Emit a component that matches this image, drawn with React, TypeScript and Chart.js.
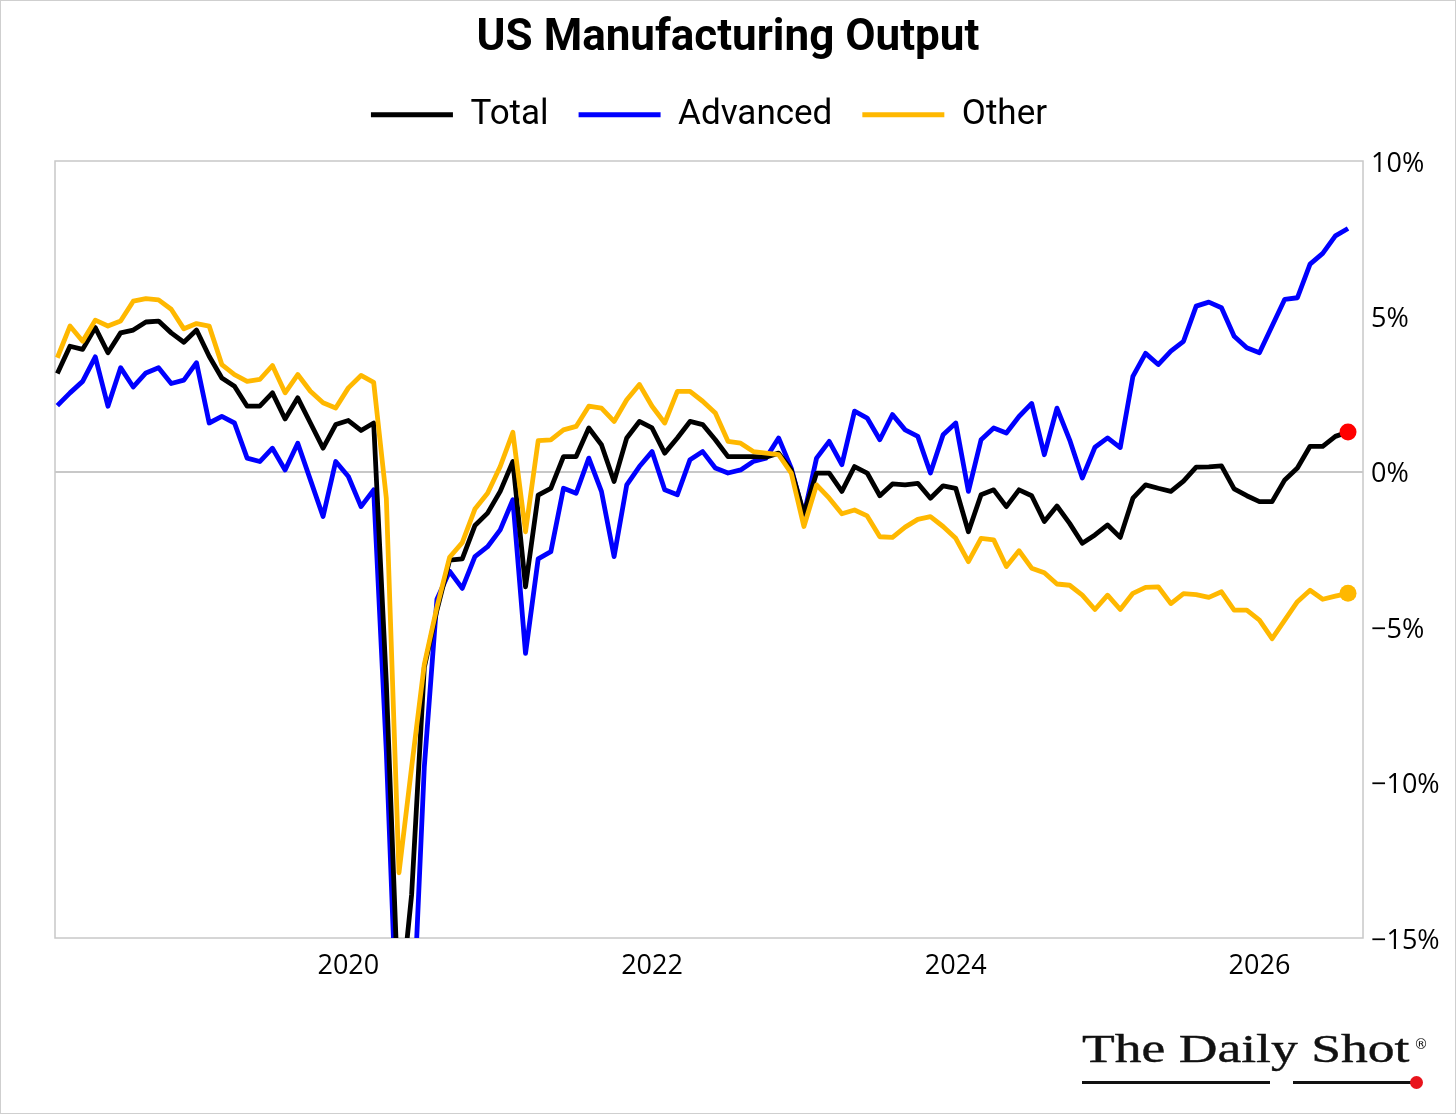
import React, { useEffect, useRef } from "react";
import { Chart, registerables } from "chart.js";

Chart.register(...registerables);

// Monthly series starting February 2018
const START_YEAR = 2018;
const START_MONTH = 2;

const total = [
  3.16, 4.04, 3.94, 4.64, 3.83, 4.47, 4.56, 4.82, 4.85, 4.47,
  4.17, 4.56, 3.72, 3.02, 2.75, 2.11, 2.11, 2.54, 1.7, 2.38,
  1.57, 0.76, 1.52, 1.65, 1.33, 1.57, -6.8, -17.6, -13.6, -6.3,
  -4.45, -2.84, -2.8, -1.73, -1.33, -0.63, 0.33, -3.7, -0.75, -0.53,
  0.49, 0.49, 1.41, 0.87, -0.31, 1.09, 1.62, 1.41, 0.6, 1.09,
  1.62, 1.52, 1.03, 0.49, 0.49, 0.49, 0.47, 0.6, 0.06, -1.35,
  -0.04, -0.04, -0.63, 0.17, -0.04, -0.77, -0.39, -0.42, -0.37, -0.85,
  -0.45, -0.53, -1.93, -0.74, -0.58, -1.12, -0.58, -0.77, -1.6, -1.1,
  -1.66, -2.3, -2.03, -1.71, -2.11, -0.85, -0.42, -0.53, -0.63, -0.3,
  0.15, 0.16, 0.19, -0.55, -0.77, -0.96, -0.96, -0.26, 0.12, 0.82,
  0.82, 1.14, 1.28,
];

const advanced = [
  2.13, 2.54, 2.91, 3.7, 2.11, 3.35, 2.73, 3.18, 3.35, 2.84,
  2.95, 3.51, 1.57, 1.78, 1.57, 0.44, 0.33, 0.76, 0.06, 0.92,
  -0.26, -1.44, 0.33, -0.15, -1.12, -0.58, -9.0, -19.7, -18.7, -9.5,
  -4.1, -3.2, -3.75, -2.73, -2.41, -1.87, -0.9, -5.84, -2.8, -2.57,
  -0.53, -0.69, 0.44, -0.63, -2.73, -0.42, 0.17, 0.65, -0.58, -0.74,
  0.39, 0.65, 0.12, -0.04, 0.06, 0.33, 0.44, 1.09, 0.12, -1.39,
  0.44, 0.98, 0.23, 1.95, 1.73, 1.03, 1.84, 1.35, 1.14, -0.04,
  1.19, 1.57, -0.63, 1.03, 1.41, 1.25, 1.78, 2.2, 0.55, 2.05,
  1.03, -0.2, 0.79, 1.09, 0.78, 3.07, 3.81, 3.45, 3.88, 4.2,
  5.33, 5.46, 5.28, 4.36, 3.99, 3.83, 4.69, 5.55, 5.6, 6.68,
  7.03, 7.59, 7.83,
];

const other = [
  3.67, 4.69, 4.2, 4.88, 4.69, 4.85, 5.49, 5.57, 5.53, 5.23,
  4.6, 4.77, 4.69, 3.45, 3.13, 2.91, 2.97, 3.42, 2.54, 3.13,
  2.59, 2.22, 2.05, 2.7, 3.1, 2.88, -0.85, -12.9, -9.5, -6.2,
  -4.35, -2.75, -2.28, -1.2, -0.69, 0.17, 1.27, -1.93, 1.0, 1.03,
  1.35, 1.46, 2.11, 2.05, 1.62, 2.32, 2.81, 2.11, 1.57, 2.59,
  2.59, 2.27, 1.89, 0.98, 0.92, 0.65, 0.6, 0.55, -0.04, -1.76,
  -0.42, -0.85, -1.35, -1.23, -1.42, -2.09, -2.11, -1.78, -1.53, -1.44,
  -1.76, -2.14, -2.89, -2.14, -2.19, -3.05, -2.54, -3.1, -3.25, -3.61,
  -3.65, -3.97, -4.43, -3.97, -4.43, -3.91, -3.72, -3.7, -4.24, -3.92,
  -3.95, -4.04, -3.86, -4.45, -4.45, -4.77, -5.37, -4.77, -4.18, -3.81,
  -4.1, -4.0, -3.91,
];

const seriesLabels = ["Total", "Advanced", "Other"];
const xTickYears = [2020, 2022, 2024, 2026];
const yTickValues = [-15, -10, -5, 0, 5, 10];
const X_MIN = 2018.068;
const X_MAX = 2026.682;
const Y_MIN = -15;
const Y_MAX = 10;

const COLORS = { total: "#000000", advanced: "#0000ff", other: "#ffb800", totalDot: "#ff0000" };

const monthX = total.map((_, i) => START_YEAR + (START_MONTH - 1 + i) / 12);
const toPoints = (arr: number[]) => arr.map((v, i) => ({ x: monthX[i], y: v }));

const framePlugin = {
  id: "plotFrame",
  beforeDatasetsDraw(chart: any) {
    const { ctx, chartArea: a } = chart;
    ctx.save();
    ctx.strokeStyle = "#c8c8c8";
    ctx.lineWidth = 1.5;
    ctx.strokeRect(a.left, a.top, a.right - a.left, a.bottom - a.top);
    ctx.restore();
  },
};

const LINE_W = 4.8;

export default function App() {
  const canvasRef = useRef<HTMLCanvasElement | null>(null);

  useEffect(() => {
    const canvas = canvasRef.current;
    if (!canvas) return;
    const last = total.length - 1;
    const tickFont = { family: "'Open Sans', 'Noto Sans', sans-serif", size: 27 };

    const chart = new Chart(canvas, {
      type: "line",
      data: {
        datasets: [
          {
            label: seriesLabels[0],
            data: toPoints(total),
            borderColor: COLORS.total,
            backgroundColor: COLORS.total,
            borderWidth: LINE_W,
            borderJoinStyle: "round",
            tension: 0,
            pointRadius: (c: any) => (c.dataIndex === last ? 8.5 : 0),
            pointBackgroundColor: COLORS.totalDot,
            pointBorderWidth: 0,
            pointHoverRadius: 0,
            order: 1,
            clip: 0,
          },
          {
            label: seriesLabels[1],
            data: toPoints(advanced),
            borderColor: COLORS.advanced,
            backgroundColor: COLORS.advanced,
            borderWidth: LINE_W,
            borderJoinStyle: "round",
            tension: 0,
            pointRadius: 0,
            pointHoverRadius: 0,
            order: 2,
            clip: 0,
          },
          {
            label: seriesLabels[2],
            data: toPoints(other),
            borderColor: COLORS.other,
            backgroundColor: COLORS.other,
            borderWidth: LINE_W,
            borderJoinStyle: "round",
            tension: 0,
            pointRadius: (c: any) => (c.dataIndex === last ? 8.5 : 0),
            pointBackgroundColor: COLORS.other,
            pointBorderWidth: 0,
            pointHoverRadius: 0,
            order: 0,
            clip: 0,
          },
        ],
      } as any,
      options: {
        responsive: false,
        animation: false,
        events: [],
        layout: { padding: { left: 0, right: 0, top: 0, bottom: 0 } },
        scales: {
          x: {
            type: "linear",
            position: "bottom",
            min: X_MIN,
            max: X_MAX,
            grid: { display: false, drawTicks: false },
            border: { display: false },
            ticks: {
              font: tickFont,
              color: "#000",
              padding: 12,
              maxRotation: 0,
              autoSkip: false,
              callback: (v: any) => String(v),
            },
            afterBuildTicks: (s: any) => {
              s.ticks = xTickYears.map((v) => ({ value: v }));
            },
            afterFit: (s: any) => {
              s.height = 176;
            },
          },
          y: {
            type: "linear",
            position: "right",
            min: Y_MIN,
            max: Y_MAX,
            grid: {
              drawTicks: false,
              lineWidth: 2,
              color: (c: any) => (c.tick && c.tick.value === 0 ? "#c8c8c8" : "rgba(0,0,0,0)"),
            },
            border: { display: false },
            ticks: {
              font: tickFont,
              color: "#000",
              padding: 8,
              labelOffset: 3,
              callback: (v: any) => (v < 0 ? "\u2212" + Math.abs(v) : String(v)) + "%",
            },
            afterBuildTicks: (s: any) => {
              s.ticks = yTickValues.map((v) => ({ value: v }));
            },
            afterFit: (s: any) => {
              s.width = 93;
            },
          },
          yLeftSpace: {
            type: "linear",
            position: "left",
            display: true,
            grid: { display: false, drawTicks: false },
            border: { display: false },
            ticks: { display: false },
            afterFit: (s: any) => {
              s.width = 55;
            },
          },
        },
        plugins: {
          tooltip: { enabled: false },
          title: {
            display: true,
            text: "US Manufacturing Output",
            color: "#000",
            font: { family: "Roboto, 'Noto Sans', sans-serif", size: 44, weight: "bold" },
            padding: { top: 13, bottom: 1.5 },
          },
          legend: {
            display: true,
            position: "top",
            fullSize: false,
            labels: {
              boxWidth: 82,
              boxHeight: 5,
              padding: 30,
              color: "#000",
              font: { family: "Roboto, 'Noto Sans', sans-serif", size: 35 },
              generateLabels: (ch: any) =>
                ch.data.datasets.map((ds: any, i: number) => ({
                  text: ds.label,
                  fillStyle: ds.borderColor,
                  strokeStyle: ds.borderColor,
                  lineWidth: 0,
                  hidden: false,
                  datasetIndex: i,
                  fontColor: "#000",
                })),
            },
          },
          subtitle: {
            display: true,
            text: "",
            weight: 900,
            font: { size: 1 },
            padding: { top: 17.5, bottom: 0 },
          },
        },
      } as any,
      plugins: [framePlugin],
    });

    return () => {
      chart.destroy();
    };
  }, []);

  return (
    <div style={{ position: "absolute", left: 0, top: 0, width: 1456, height: 1114, background: "#fff" }}>
      <canvas ref={canvasRef} width={1456} height={1114} style={{ display: "block", width: 1456, height: 1114 }} />
      <div
        style={{
          position: "absolute",
          left: 0,
          top: 0,
          width: 1456,
          height: 1114,
          boxSizing: "border-box",
          border: "1.5px solid #cfcfcf",
          pointerEvents: "none",
        }}
      />
      {/* Logo */}
      <div
        style={{
          position: "absolute",
          left: 1082,
          top: 1029,
          fontFamily: "'Liberation Serif', 'DejaVu Serif', serif",
          fontSize: 40,
          lineHeight: "40px",
          letterSpacing: 0,
          color: "#111",
          whiteSpace: "nowrap",
          transform: "scaleX(1.34)",
          transformOrigin: "left top",
          WebkitTextStroke: "0.4px #111",
        }}
      >
        The Daily Shot
      </div>
      <div
        style={{
          position: "absolute",
          left: 1414,
          top: 1036,
          fontFamily: "'DejaVu Sans', sans-serif",
          fontSize: 14,
          lineHeight: "16px",
          color: "#111",
        }}
      >
        ®
      </div>
      <div style={{ position: "absolute", left: 1082, top: 1081, width: 188, height: 3, background: "#111" }} />
      <div style={{ position: "absolute", left: 1293, top: 1081, width: 121, height: 3, background: "#111" }} />
      <div
        style={{
          position: "absolute",
          left: 1410,
          top: 1076,
          width: 13,
          height: 13,
          borderRadius: "50%",
          background: "#e8141c",
        }}
      />
    </div>
  );
}
